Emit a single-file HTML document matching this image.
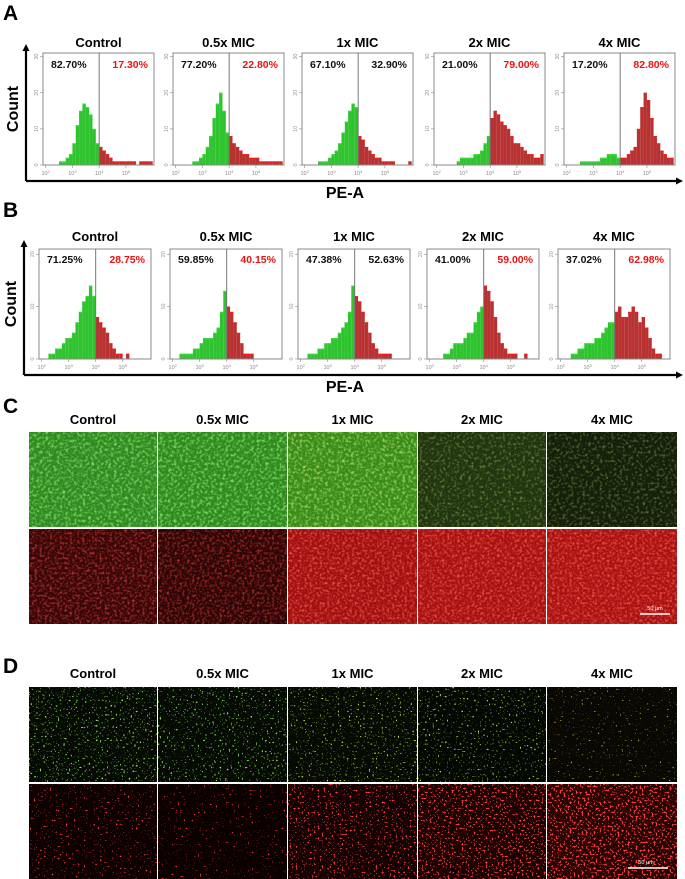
<!DOCTYPE html>
<html><head><meta charset="utf-8">
<style>
html,body{margin:0;padding:0;background:#fff;}
svg{display:block;font-family:"Liberation Sans",Arial,sans-serif;}
</style></head>
<body>
<svg id="fig" width="685" height="879" viewBox="0 0 685 879" xmlns="http://www.w3.org/2000/svg">
<defs id="defs"></defs>
</svg>
<script>
// ---- Data ----
const groups = ["Control","0.5x MIC","1x MIC","2x MIC","4x MIC"];
const binStart = 2, binWidth = 0.125, gateLog = 4.0;
const xTickLogs = [2,3,4,5];
// Panel A histograms (count, y max 30)
const histA_control = [0,0,0,0,1,1,2,3,6,11,15,17,16,14,10,6,5,4,3,2,1,1,1,1,1,1,1,0,1,1,1,1];
const histA_half    = [0,0,0,0,0,1,1,2,3,5,8,13,17,20,15,9,8,6,5,4,3,3,2,2,2,1,1,1,1,1,1,1];
const histA_1x      = [0,0,0,0,1,1,1,2,3,4,6,9,12,15,17,16,8,7,5,4,3,2,2,1,1,1,1,0,0,0,0,1];
const histA_2x      = [0,0,0,0,0,0,1,2,2,2,2,3,3,4,6,8,13,15,14,12,11,10,8,6,6,5,4,3,3,2,2,3];
const histA_4x      = [0,0,0,0,1,1,1,1,1,1,2,2,3,3,3,2,2,2,3,4,5,10,16,20,18,13,8,6,4,3,2,2];
const pctA_left  = ["82.70%","77.20%","67.10%","21.00%","17.20%"];
const pctA_right = ["17.30%","22.80%","32.90%","79.00%","82.80%"];
const yTicksA = [0,10,20,30];
// Panel B histograms (count, y max 20)
const histB_control = [0,0,1,1,2,2,3,4,4,5,7,9,11,12,14,12,8,7,6,5,3,2,1,1,0,1,0,0,0,0,0,0];
const histB_half    = [0,0,1,1,1,1,2,2,3,4,4,4,5,6,9,13,10,9,7,5,3,1,1,1,0,0,0,0,0,0,0,0];
const histB_1x      = [0,0,1,1,1,2,2,3,3,4,4,5,6,7,9,14,12,11,9,7,5,3,2,1,1,1,1,0,0,0,0,0];
const histB_2x      = [0,0,0,0,1,1,2,3,3,3,4,5,5,7,9,10,14,13,11,8,5,3,2,1,1,1,0,0,1,0,0,0];
const histB_4x      = [0,0,0,1,1,2,2,3,3,3,4,4,5,6,7,7,9,10,8,8,9,10,9,7,8,6,4,2,1,1,0,0];
const pctB_left  = ["71.25%","59.85%","47.38%","41.00%","37.02%"];
const pctB_right = ["28.75%","40.15%","52.63%","59.00%","62.98%"];
const yTicksB = [0,10,20];

const NS = "http://www.w3.org/2000/svg";
const svg = document.getElementById("fig");
const defs = document.getElementById("defs");
function mk(tag, attrs, parent){
  const e = document.createElementNS(NS, tag);
  for (const k in attrs) e.setAttribute(k, attrs[k]);
  (parent||svg).appendChild(e);
  return e;
}
function txt(s, attrs, parent){ const t = mk("text", attrs, parent); t.textContent = s; return t; }

function panelLabel(ch, y){
  const t = txt(ch, {x:3, y:y, "font-size":21, "font-weight":"bold", fill:"#000"});
  
  
}

function drawHistPanel(id, lefts, width, top, bottom, ymax, yTicks, hists, pl, pr, rightColors, titleY, pctY, axis){
  const g = mk("g", {});
  
  
  const ax = mk("path", {d:`M${axis.x} ${axis.y} L${axis.x} ${axis.top+6} M${axis.x} ${axis.y} L676 ${axis.y}`, stroke:"#000", "stroke-width":2.2, fill:"none"}, g);
  
  
  mk("path", {d:`M${axis.x-3.5} ${axis.top+7} L${axis.x} ${axis.top} L${axis.x+3.5} ${axis.top+7} Z`, fill:"#000"}, g);
  mk("path", {d:`M676 ${axis.y-3.5} L683 ${axis.y} L676 ${axis.y+3.5} Z`, fill:"#000"}, g);
  const yl = txt("Count", {x:0, y:0, "font-size":16, "font-weight":"bold", "text-anchor":"middle", transform:`translate(${axis.x-8},${(top+bottom)/2}) rotate(-90)`}, g);
  
  
  const xl = txt("PE-A", {x:345, y:axis.y+17, "font-size":16, "font-weight":"bold", "text-anchor":"middle"}, g);
  
  

  hists.forEach((h, i) => {
    const L = lefts[i], R = L + width;
    const sub = mk("g", {}, g);
    
    
    const xs = v => L + (v - 1.9) / (6.05 - 1.9) * width;
    const ys = c => bottom - c / ymax * (bottom - top);
    const title = txt(groups[i], {x:(L+R)/2, y:titleY, "font-size":13, "font-weight":"bold", "text-anchor":"middle"}, sub);
    
    
    h.forEach((c, b) => {
      const v0 = binStart + b*binWidth, v1 = v0 + binWidth;
      if (c <= 0) return;
      const isRed = v0 >= gateLog;
      const r = mk("rect", {x:xs(v0), y:ys(c), width:Math.max(0.5, xs(v1)-xs(v0)), height:bottom-ys(c), fill:isRed?"#b83232":"#2fc42f"}, sub);
      
      
      mk("rect", {x:xs(v0), y:ys(c), width:Math.max(0.5, xs(v1)-xs(v0)), height:1.2, fill:isRed?"#ee1c1c":"#33dd33"}, sub);
    });
    const box = mk("rect", {x:L, y:top, width:width, height:bottom-top, fill:"none", stroke:"#888", "stroke-width":1}, sub);
    
    
    const gx = xs(gateLog);
    const gate = mk("line", {x1:gx, x2:gx, y1:top, y2:bottom, stroke:"#777", "stroke-width":1}, sub);
    
    
    xTickLogs.forEach(t => {
      mk("line", {x1:xs(t), x2:xs(t), y1:bottom, y2:bottom+3, stroke:"#888", "stroke-width":0.6}, sub);
      const tl = txt("10", {x:xs(t), y:bottom+10, "font-size":5.5, fill:"#888", "text-anchor":"middle"}, sub);
      const sp = mk("tspan", {dy:-2, "font-size":4}, tl); sp.textContent = String(t);
      
      
    });
    yTicks.forEach(t => {
      mk("line", {x1:L-3, x2:L, y1:ys(t), y2:ys(t), stroke:"#888", "stroke-width":0.6}, sub);
      const tl = txt(String(t), {x:0, y:0, "font-size":5.5, fill:"#999", "text-anchor":"middle", transform:`translate(${L-5},${ys(t)}) rotate(-90)`}, sub);
      
      
    });
    const a = txt(pl[i], {x:L+8, y:pctY, "font-size":10.5, "font-weight":"bold", fill:"#111"}, sub);
    
    
    const b = txt(pr[i], {x:R-6, y:pctY, "font-size":10.5, "font-weight":"bold", fill:rightColors[i], "text-anchor":"end"}, sub);
    
    
  });
}

panelLabel("A", 20);
drawHistPanel("a", [43,173,302,434,564], 111, 53, 165, 31, yTicksA,
  [histA_control,histA_half,histA_1x,histA_2x,histA_4x], pctA_left, pctA_right,
  ["#ee1111","#ee1111","#111","#ee1111","#ee1111"], 47, 68, {x:26, y:181, top:44});
panelLabel("B", 217);
drawHistPanel("b", [39,170,298,427,558], 112, 249, 359, 21, yTicksB,
  [histB_control,histB_half,histB_1x,histB_2x,histB_4x], pctB_left, pctB_right,
  ["#ee1111","#ee1111","#111","#ee1111","#ee1111"], 241, 263, {x:24, y:375, top:240});

// ---- Microscopy panels ----
const colLefts = [29,158,288,418,547];
const colW = [128,129,129,128,130];
let fid = 0;
function noiseFilter(rgb, freq, a, c, seed, oct){
  const id = "f" + (fid++);
  const f = mk("filter", {id:id, x:0, y:0, width:1, height:1}, defs);
  mk("feTurbulence", {type:"fractalNoise", baseFrequency:freq, numOctaves:oct, seed:seed}, f);
  mk("feColorMatrix", {type:"matrix", values:`0 0 0 0 ${rgb[0]} 0 0 0 0 ${rgb[1]} 0 0 0 0 ${rgb[2]} ${a} 0 0 0 ${c}`}, f);
  return id;
}
function cell(x, y, w, h, base, dot, freq, a, c, seed, oct, name){
  const g = mk("g", {});
  
  
  mk("rect", {x:x, y:y, width:w, height:h, fill:base}, g);
  const id = noiseFilter(dot, freq, a, c, seed, oct);
  mk("rect", {x:x, y:y, width:w, height:h, fill:"#000", filter:`url(#${id})`}, g);
}
function titles(y, prefix){
  groups.forEach((s,i) => {
    const t = txt(s, {x:colLefts[i]+colW[i]/2, y:y, "font-size":13, "font-weight":"bold", "text-anchor":"middle"});
    
    
  });
}
// C
panelLabel("C", 413);
titles(424, "c-column");
const cGreenBase = ["#2f8a22","#2e8a20","#3a8a1c","#213510","#151f0a"];
const cGreenDot  = [[0.35,0.9,0.2],[0.35,0.9,0.2],[0.5,0.85,0.15],[0.4,0.6,0.1],[0.35,0.5,0.1]];
const cGreenA = [[2,-0.9],[2,-0.9],[2,-0.9],[1.5,-0.75],[1.5,-0.75]];
const cRedBase = ["#360606","#2a0505","#a01010","#a81111","#aa1212"];
const cRedDot  = [[0.75,0.05,0.05],[0.7,0.04,0.04],[1,0.15,0.1],[1,0.15,0.1],[1,0.15,0.1]];
colLefts.forEach((x,i) => {
  cell(x, 432, colW[i], 95, cGreenBase[i], cGreenDot[i], 0.35, cGreenA[i][0], cGreenA[i][1], i+1, 2, 'c-live-image');
  cell(x, 529, colW[i], 95, cRedBase[i], cRedDot[i], 0.4, 2, -0.9, i+11, 2, 'c-dead-image');
});
mk("line", {x1:640, x2:670, y1:614, y2:614, stroke:"#fff", "stroke-width":1.5});
const sbc = txt("50 μm", {x:655, y:610, "font-size":5.5, fill:"#fff", "text-anchor":"middle"});



// D
panelLabel("D", 673);
titles(678, "d-column");
const dGreenBase = ["#050b03","#050a03","#050a02","#040802","#0a0802"];
const dGreenDot  = [[0.3,0.85,0.15],[0.3,0.85,0.15],[0.55,0.9,0.1],[0.45,0.9,0.1],[0.6,0.6,0.1]];
const dGreenC = [-5.6,-5.7,-5.8,-5.8,-6.1];
const dRedBase = ["#0e0101","#0c0101","#160202","#1e0202","#2a0303"];
const dRedC = [-5.8,-6.0,-5.5,-5.3,-5.0];
colLefts.forEach((x,i) => {
  cell(x, 687, colW[i], 95, dGreenBase[i], dGreenDot[i], 0.55, 9, dGreenC[i], i+21, 1, 'd-live-image');
  cell(x, 784, colW[i], 95, dRedBase[i], [0.95,0.05,0.05], 0.5, 9, dRedC[i], i+31, 1, 'd-dead-image');
});
mk("line", {x1:628, x2:668, y1:868, y2:868, stroke:"#fff", "stroke-width":1.5});
const sbd = txt("50 μm", {x:646, y:864, "font-size":5.5, fill:"#fff", "text-anchor":"middle"});


</script>
</body></html>
